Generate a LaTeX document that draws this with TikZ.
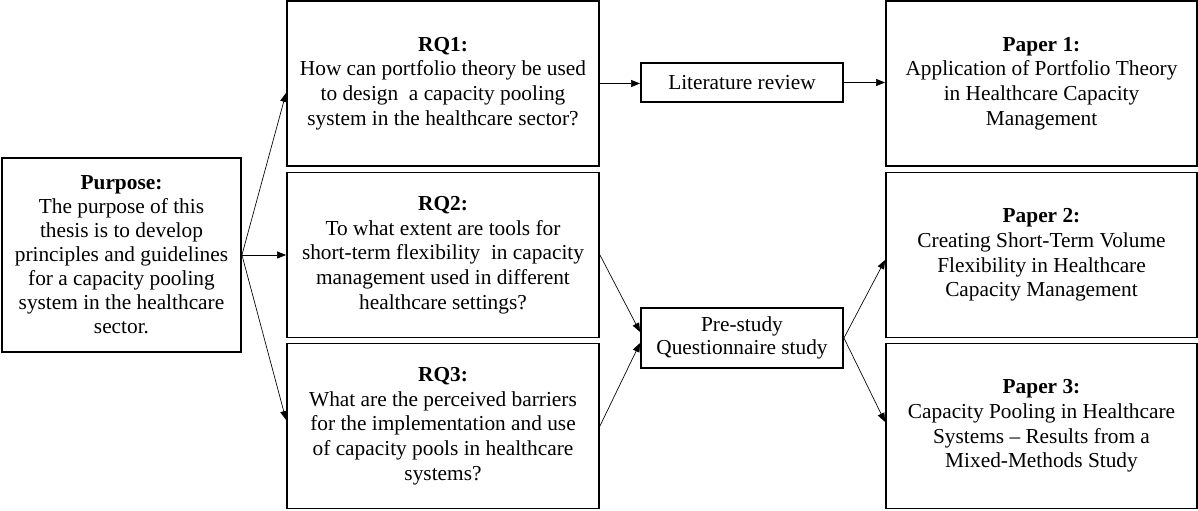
\documentclass[tikz,border=0pt]{standalone}
\usepackage{fontspec}
\setmainfont{Liberation Serif}
\usetikzlibrary{arrows.meta}
\begin{document}
\begin{tikzpicture}[x=0.75pt,y=-0.75pt,
  box/.style={draw, line width=1.4pt, align=center, inner sep=0pt,
    font=\fontsize{16}{18.5}\selectfont},
  rqbox/.style={box, minimum width=234pt, minimum height=123.75pt},
  paperbox/.style={box, minimum width=233.25pt, minimum height=123.75pt},
  stepbox/.style={box, minimum width=151.5pt, font=\fontsize{16}{17.5}\selectfont},
  conn/.style={-{Triangle[length=6.75pt,width=5.25pt]}, line width=0.5pt}]
\useasboundingbox (0,0) rectangle (1198,510);

\node[box, minimum width=179.25pt, minimum height=145.5pt, font=\fontsize{16}{18}\selectfont] (purpose) at (121.5,255)
  {\textbf{Purpose:}\\The purpose of this\\thesis is to develop\\principles and guidelines\\for a capacity pooling\\system in the healthcare\\sector.};

\node[rqbox] (rq1) at (443,83.5)
  {\textbf{RQ1:}\\How can portfolio theory be used\\to design\ \ a capacity pooling\\system in the healthcare sector?};
\node[rqbox] (rq2) at (443,255)
  {\textbf{RQ2:}\\To what extent are tools for\\short-term flexibility\ \ in capacity\\management used in different\\healthcare settings?};
\node[rqbox] (rq3) at (443,426)
  {\textbf{RQ3:}\\What are the perceived barriers\\for the implementation and use\\of capacity pools in healthcare\\systems?};

\node[stepbox, minimum height=29.25pt] (lit) at (742,82.5) {Literature review};
\node[stepbox, minimum height=45pt] (pre) at (742,338) {Pre-study\\Questionnaire study};

\node[paperbox] (p1) at (1041.5,83.5)
  {\textbf{Paper 1:}\\Application of Portfolio Theory\\in Healthcare Capacity\\Management};
\node[paperbox] (p2) at (1041.5,255)
  {\textbf{Paper 2:}\\Creating Short-Term Volume\\Flexibility in Healthcare\\Capacity Management};
\node[paperbox] (p3) at (1041.5,426)
  {\textbf{Paper 3:}\\Capacity Pooling in Healthcare\\Systems -- Results from a\\Mixed-Methods Study};

\draw[conn] (purpose.east) -- ([yshift=-7.1pt]rq1.west);
\draw[conn] (purpose.east) -- (rq2.west);
\draw[conn] (purpose.east) -- ([yshift=4.5pt]rq3.west);

\draw[conn] (rq1.east) -- (rq1.east -| lit.west);
\draw[conn] (lit.east) -- (lit.east -| p1.west);

\draw[conn] (rq2.east) -- ([yshift=4.5pt]pre.west);
\draw[conn] (rq3.east) -- ([yshift=-3.75pt]pre.west);

\draw[conn] (pre.east) -- ([yshift=-3.75pt]p2.west);
\draw[conn] (pre.east) -- ([yshift=3pt]p3.west);
\end{tikzpicture}
\end{document}
